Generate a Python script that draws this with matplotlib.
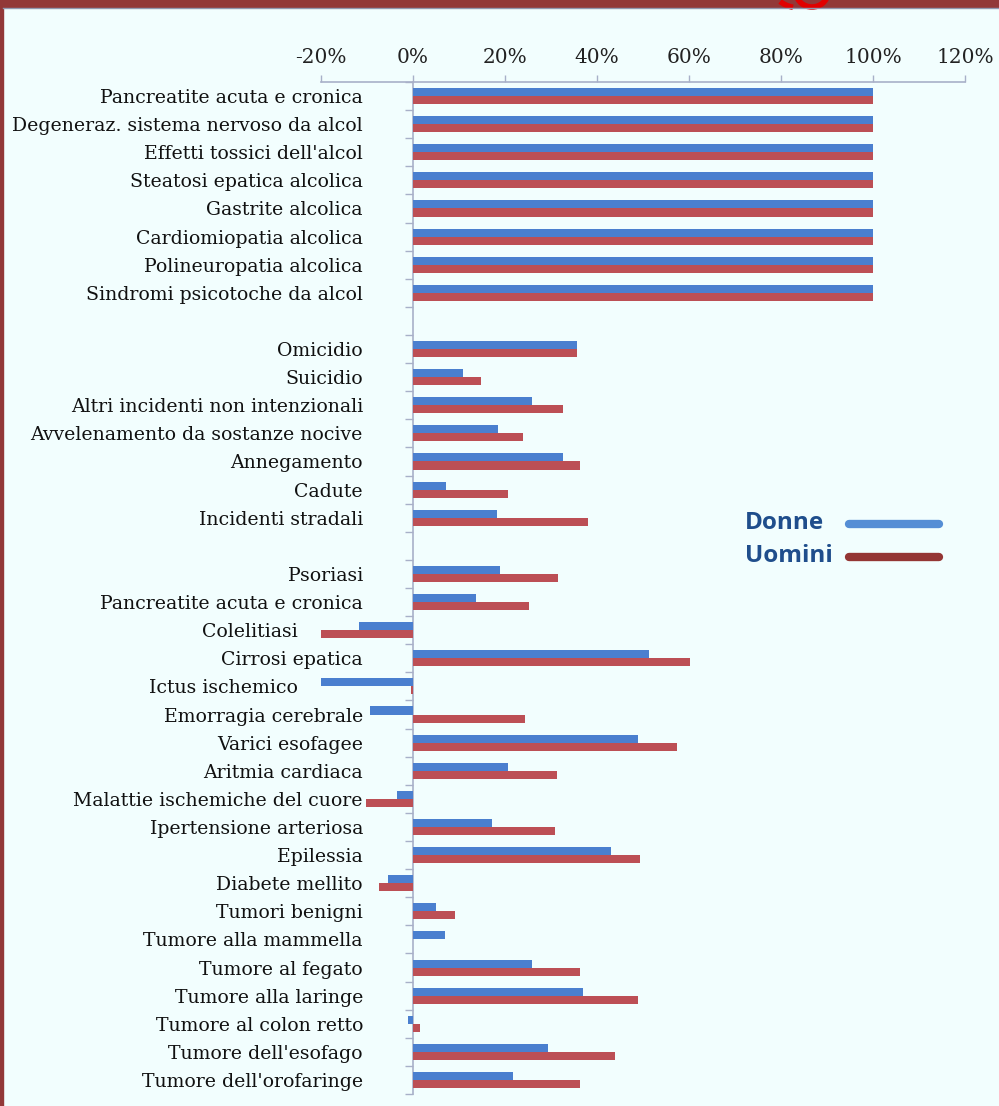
import matplotlib.pyplot as plt
import matplotlib.patches as mpatches
import matplotlib.transforms as mtransforms
from matplotlib.lines import Line2D
import numpy as np

# %%
# quota di mortalita' attribuibile all'alcol, per causa (valori in %)
cause = [
    'Pancreatite acuta e cronica',
    'Degeneraz. sistema nervoso da alcol',
    "Effetti tossici dell'alcol",
    'Steatosi epatica alcolica',
    'Gastrite alcolica',
    'Cardiomiopatia alcolica',
    'Polineuropatia alcolica',
    'Sindromi psicotoche da alcol',
    '',
    'Omicidio',
    'Suicidio',
    'Altri incidenti non intenzionali',
    'Avvelenamento da sostanze nocive',
    'Annegamento',
    'Cadute',
    'Incidenti stradali',
    '',
    'Psoriasi',
    'Pancreatite acuta e cronica',
    'Colelitiasi',
    'Cirrosi epatica',
    'Ictus ischemico',
    'Emorragia cerebrale',
    'Varici esofagee',
    'Aritmia cardiaca',
    'Malattie ischemiche del cuore',
    'Ipertensione arteriosa',
    'Epilessia',
    'Diabete mellito',
    'Tumori benigni',
    'Tumore alla mammella',
    'Tumore al fegato',
    'Tumore alla laringe',
    'Tumore al colon retto',
    "Tumore dell'esofago",
    "Tumore dell'orofaringe",
]

donne = [100, 100, 100, 100, 100, 100, 100, 100, np.nan,
         35.7, 10.9, 25.9, 18.5, 32.6, 7.2, 18.3, np.nan,
         18.9, 13.7, -11.7, 51.3, -20.2, -9.3, 48.9, 20.7, -3.5,
         17.2, 43.0, -5.4, 5.0, 7.0, 25.9, 37.0, -1.1, 29.3, 21.7]

uomini = [100, 100, 100, 100, 100, 100, 100, 100, np.nan,
          35.7, 14.8, 32.6, 23.9, 36.3, 20.7, 38.0, np.nan,
          31.5, 25.2, -20.2, 60.2, -0.4, 24.3, 57.4, 31.3, -10.3,
          30.9, 49.3, -7.4, 9.1, 0.0, 36.3, 48.9, 1.6, 43.9, 36.3]

xticks = [-20, 0, 20, 40, 60, 80, 100, 120]

# %%
bg = '#F2FEFE'
blu = '#4A7FCF'
rosso = '#BC4F55'
asse = '#A8B0C8'
W, H = 999, 1106

fig = plt.figure(figsize=(W / 100, H / 100), dpi=100, facecolor=bg)
ax = fig.add_axes([0.3213, 0.0108, 0.6446, 0.9151])
ax.set_facecolor(bg)

y = np.arange(len(cause))
h = 0.286
ax.barh(y - h / 2, donne, height=h, color=blu, zorder=3)
ax.barh(y + h / 2, uomini, height=h, color=rosso, zorder=3)

ax.set_xlim(-20, 120)
ax.set_ylim(len(cause) - 0.5, -0.5)

# asse x in alto
ax.xaxis.tick_top()
ax.set_xticks(xticks)
ax.set_xticklabels(['{}%'.format(v) for v in xticks])
ax.tick_params(axis='x', direction='out', length=5, width=1, color=asse,
               pad=6, labelsize=14.5, labelcolor='#222222')
for lab in ax.get_xticklabels():
    lab.set_family('DejaVu Serif')

# asse categorie sullo 0, etichette scritte a mano
ax.spines['left'].set_position(('data', 0))
ax.set_yticks([])
ax.set_yticks(np.arange(-0.5, len(cause), 1), minor=True)
ax.tick_params(axis='y', which='minor', length=6, width=1, color=asse)

trans = mtransforms.blended_transform_factory(ax.transData, ax.transData)
for i, nome in enumerate(cause):
    if not nome:
        continue
    xmin = np.nanmin([donne[i], uomini[i], 0])
    if xmin < -11:
        # etichetta spostata a sinistra della barra negativa
        x0, dx = xmin, -22
    else:
        x0, dx = 0, -50
    off = mtransforms.offset_copy(trans, fig=fig, x=dx, y=-2, units='dots')
    ax.text(x0, i, nome, transform=off, ha='right', va='center',
            family='DejaVu Serif', fontsize=13.6, color='#111111')

for s in ['right', 'bottom']:
    ax.spines[s].set_visible(False)
ax.spines['top'].set_color(asse)
ax.spines['left'].set_color(asse)
ax.spines['top'].set_linewidth(1.2)
ax.spines['left'].set_linewidth(1.2)

# legenda
voci = [('Donne', '#558ED5', 523), ('Uomini', '#943634', 556)]
for testo, col, py in voci:
    fig.text(745 / W, 1 - py / H, testo, ha='left', va='center',
             family='Open Sans', weight='bold', fontsize=17.5, color='#1F4E8C')
    fig.lines.append(Line2D([849 / W, 939 / W], [1 - (py + 1) / H] * 2,
                            transform=fig.transFigure, color=col, lw=6,
                            solid_capstyle='round'))

# cornice
fig.patches.append(mpatches.Rectangle((0, 1 - 7 / H), 1, 7 / H,
                                      transform=fig.transFigure,
                                      color='#923838', zorder=0))
fig.patches.append(mpatches.Rectangle((0, 0), 3 / W, 1,
                                      transform=fig.transFigure,
                                      color='#923838', zorder=0))
fig.lines.append(Line2D([3 / W, 1], [1 - 8 / H, 1 - 8 / H],
                        transform=fig.transFigure, color='#9098B0', lw=1))
fig.patches.append(mpatches.Arc((812 / W, 1 + 8 / H), 32 / W, 30 / H,
                                theta1=185, theta2=355, transform=fig.transFigure,
                                color='#E00000', lw=4, zorder=1))
fig.patches.append(mpatches.Arc((800 / W, 1 + 14 / H), 56 / W, 44 / H,
                                theta1=215, theta2=250, transform=fig.transFigure,
                                color='#E00000', lw=4, zorder=1))

fig.savefig('out.png', dpi=100, facecolor=bg)
